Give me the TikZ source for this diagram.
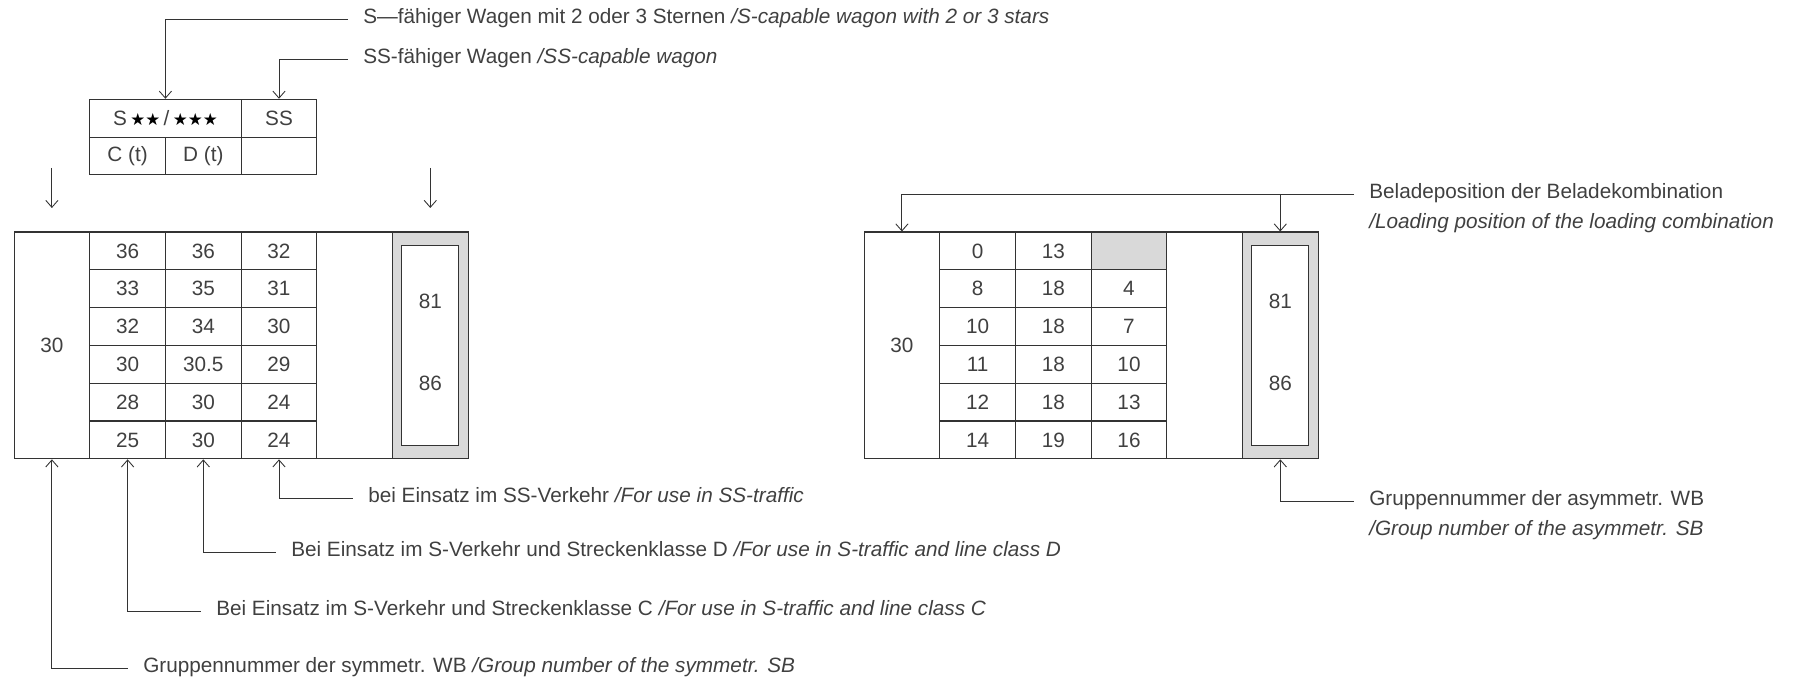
\documentclass[tikz,border=0pt]{standalone}
\usepackage{fontspec}
\setmainfont{Liberation Sans}
\newfontfamily\sternfont{DejaVu Sans}
\usetikzlibrary{arrows.meta}

\definecolor{linie}{HTML}{333333}
\definecolor{schrift}{HTML}{404040}
\definecolor{hellgrau}{HTML}{D9D9D9}

\newcommand{\sterne}[1]{{\sternfont\fontsize{9.5}{10}\selectfont\color{black}#1}}

\tikzset{
  every node/.style={font=\fontsize{11.8}{14}\selectfont},
  zelle/.style={draw=linie, line width=0.6pt, minimum width=1.514cm, minimum height=0.756cm, inner sep=0pt, text=schrift},
  hoch/.style={zelle, minimum height=4.536cm},
  zahl/.style={inner sep=0pt, text=schrift},
  innen/.style={draw=linie, line width=0.6pt, fill=white, minimum width=1.146cm, minimum height=4cm},
  notiz/.style={anchor=mid west, inner xsep=8.5pt, inner ysep=0pt, text=schrift},
  leiter/.style={draw=linie, line width=0.5pt},
  >={Straight Barb[length=4pt,width=7pt]}
}

\begin{document}
\begin{tikzpicture}[x=0.02cm, y=-0.02cm]
	\useasboundingbox (0,0) rectangle (1805,682); % Rand wie Vorlage
	
	% kleine Tabelle oben
	\node[zelle, minimum width=3.028cm] (kS) at (165.4,118.2) {S\,\sterne{★★}\,/\,\sterne{★★★}};
	\node[zelle] (kSS) at (279,118.2) {SS};
	\node[zelle] (kC) at (127.6,156) {C (t)};
	\node[zelle] (kD) at (203.3,156) {D (t)};
	\node[zelle] (kL) at (279,156) {};
	
	\node[notiz] (tS) at (348,19) {S—fähiger Wagen mit 2 oder 3 Sternen \textit{/S-capable wagon with 2 or 3 stars}};
	\node[notiz] (tSS) at (348,59) {SS-fähiger Wagen \textit{/SS-capable wagon}};
	\draw[leiter,->] (tS.mid west) -| (kS.north);
	\draw[leiter,->] (tSS.mid west) -| (kSS.north);
	
	\coordinate (pL1) at (51.9,168); %freie Pfeile
	\coordinate (pL2) at (51.9,208);
	\coordinate (pR1) at (430.3,168);
	\coordinate (pR2) at (430.3,208);
	\draw[leiter,->] (pL1) -- (pL2);
	\draw[leiter,->] (pR1) -- (pR2);
	
	% linke Tabelle
	\node[hoch] (l0) at (51.9,345.4) {30};
	\foreach \a/\b/\c [count=\r from 0] in {36/36/32,33/35/31,32/34/30,30/30.5/29,28/30/24,25/30/24}{
		\node[zelle] (l\r-1) at (127.6,250.9+37.8*\r) {\a};
		\node[zelle] (l\r-2) at (203.3,250.9+37.8*\r) {\b};
		\node[zelle] (l\r-3) at (279,250.9+37.8*\r) {\c};
	}
	\node[hoch] (l4) at (354.6,345.4) {};
	\node[hoch, fill=hellgrau] (l5) at (430.3,345.4) {};
	\node[innen] (l5i) at (430.3,345.4) {};
	\node[zahl] (l81) at (430.3,301.5) {81};
	\node[zahl] (l86) at (430.3,383.3) {86};
	
	\node[notiz] (tV) at (353,498) {bei Einsatz im SS-Verkehr \textit{/For use in SS-traffic}};
	\node[notiz] (tD) at (276,552) {Bei Einsatz im S-Verkehr und Streckenklasse D \textit{/For use in S-traffic and line class D}};
	\node[notiz] (tC) at (201,611) {Bei Einsatz im S-Verkehr und Streckenklasse C \textit{/For use in S-traffic and line class C}};
	\node[notiz] (tG) at (128,668) {Gruppennummer der symmetr. WB \textit{/Group number of the symmetr. SB}};
	\draw[leiter,<-] (l5-3.south) |- (tV.mid west);
	\draw[leiter,<-] (l5-2.south) |- (tD.mid west);
	\draw[leiter,<-] (l5-1.south) |- (tC.mid west);
	\draw[leiter,<-] (l0.south) |- (tG.mid west);
	
	% rechte Tabelle
	\fill[hellgrau] (1091.1,232) rectangle (1166.8,269.8); % leeres Feld
	\node[hoch] (r0) at (901.9,345.4) {30};
	\foreach \a/\b/\c [count=\r from 0] in {0/13/{},8/18/4,10/18/7,11/18/10,12/18/13,14/19/16}{
		\node[zelle] (r\r-1) at (977.6,250.9+37.8*\r) {\a};
		\node[zelle] (r\r-2) at (1053.3,250.9+37.8*\r) {\b};
		\node[zelle] (r\r-3) at (1129,250.9+37.8*\r) {\c};
	}
	\node[hoch] (r4) at (1204.6,345.4) {};
	\node[hoch, fill=hellgrau] (r5) at (1280.3,345.4) {};
	\node[innen] (r5i) at (1280.3,345.4) {};
	\node[zahl] (r81) at (1280.3,301.5) {81};
	\node[zahl] (r86) at (1280.3,383.3) {86};
	
	\node[notiz] (tB1) at (1354,194) {Beladeposition der Beladekombination};
	\node[notiz] (tB2) at (1354,224) {\textit{/Loading position of the loading combination}};
	\draw[leiter,->] (tB1.mid west) -| (r0.north);
	\draw[leiter,->] (r5.north |- tB1.mid west) -- (r5.north);
	
	\node[notiz] (tA1) at (1354,501) {Gruppennummer der asymmetr. WB};
	\node[notiz] (tA2) at (1354,531) {\textit{/Group number of the asymmetr. SB}};
	\draw[leiter,<-] (r5.south) |- (tA1.mid west);
	
	%\draw[help lines, step=100] (0,0) grid (1805,682);
\end{tikzpicture}
\end{document}
